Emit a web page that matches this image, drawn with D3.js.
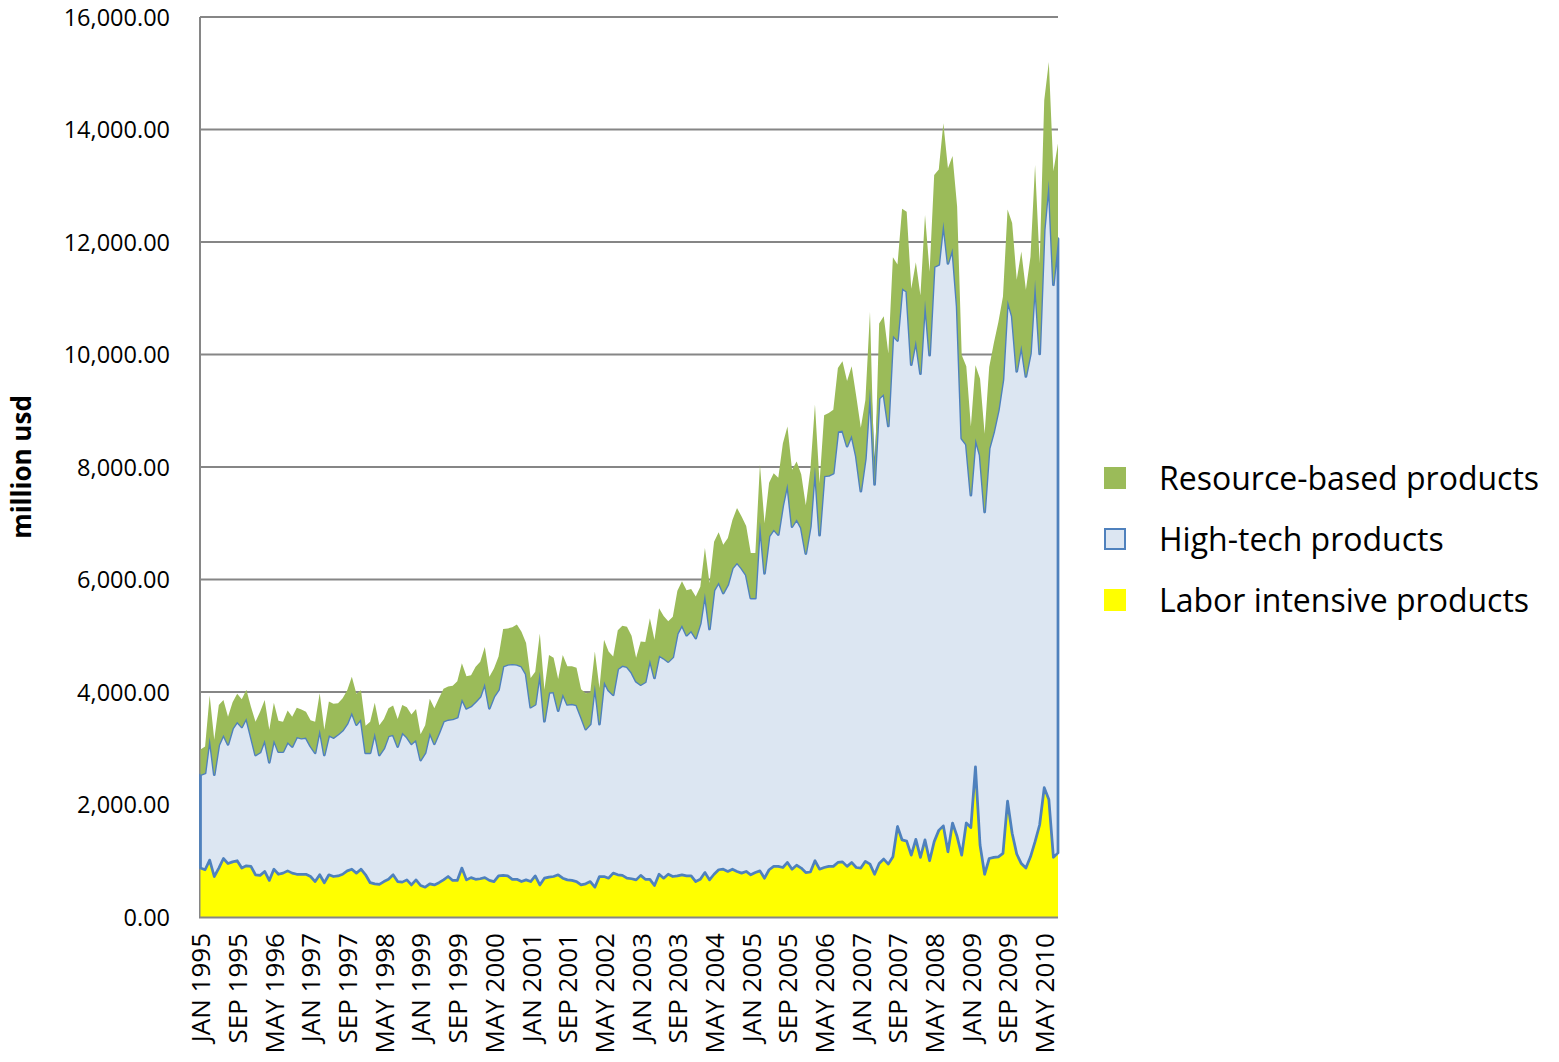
<!DOCTYPE html>
<html>
<head>
<meta charset="utf-8">
<script src="https://cdn.jsdelivr.net/npm/d3@7"></script>
<style>
  body { margin: 0; background: #fff; }
  text { font-family: "Open Sans", sans-serif; fill: #000; }
</style>
</head>
<body>
<div class="chart"></div>
<script>
// monthly values, million usd, JAN 1995 .. AUG 2010
const laborIntensive = [
  870, 840, 1010, 720, 870, 1040, 950, 980, 1000, 870, 910, 900,
  750, 740, 810, 650, 850, 760, 780, 820, 780, 760, 760, 760,
  720, 630, 750, 610, 750, 720, 730, 760, 820, 850, 780, 850,
  750, 610, 590, 580, 630, 670, 750, 630, 620, 660, 570, 660,
  560, 530, 590, 570, 610, 660, 720, 650, 650, 870, 660, 700,
  670, 680, 700, 650, 630, 730, 740, 730, 670, 670, 630, 660,
  630, 730, 570, 690, 710, 720, 750, 690, 660, 650, 630, 570,
  590, 630, 530, 720, 720, 690, 780, 750, 740, 690, 680, 660,
  740, 670, 670, 560, 760, 690, 760, 720, 730, 750, 730, 730,
  630, 670, 790, 660, 760, 840, 850, 810, 850, 810, 780, 810,
  750, 790, 820, 690, 840, 900, 900, 880, 970, 850, 920, 870,
  790, 800, 1000, 850, 880, 900, 900, 970, 980, 900, 970, 880,
  870, 990, 940, 760, 950, 1030, 940, 1070, 1610, 1370, 1350, 1100,
  1380, 1060, 1370, 1000, 1340, 1540, 1620, 1160, 1670, 1430, 1100, 1670,
  1590, 2670, 1280, 760, 1040, 1060, 1070, 1130, 2060, 1490, 1120, 950,
  870, 1070, 1340, 1640, 2300, 2090, 1060, 1140
];
const highTech = [
  1660, 1720, 2190, 1810, 2190, 2200, 2120, 2370, 2470, 2510, 2630, 2310,
  2130, 2190, 2340, 2100, 2300, 2180, 2160, 2290, 2250, 2440, 2420, 2430,
  2320, 2290, 2590, 2270, 2480, 2470, 2520, 2560, 2620, 2790, 2640, 2670,
  2170, 2310, 2690, 2300, 2370, 2550, 2490, 2400, 2660, 2540, 2510, 2490,
  2230, 2390, 2690, 2510, 2660, 2820, 2790, 2870, 2900, 3010, 3050, 3050,
  3160, 3240, 3460, 3060, 3290, 3310, 3720, 3760, 3830, 3820, 3830, 3660,
  3100, 3050, 3790, 2790, 3280, 3280, 2920, 3280, 3120, 3140, 3140, 2990,
  2750, 2800, 3600, 2710, 3470, 3340, 3170, 3660, 3730, 3760, 3670, 3530,
  3390, 3510, 3910, 3690, 3890, 3910, 3780, 3900, 4310, 4440, 4280, 4360,
  4330, 4550, 4970, 4460, 5050, 5110, 4910, 5100, 5350, 5490, 5420, 5270,
  4920, 4880, 6210, 5420, 5930, 5990, 5900, 6440, 6740, 6090, 6150, 6050,
  5670, 6140, 7010, 5940, 6960, 6950, 6990, 7660, 7670, 7470, 7600, 7310,
  6700, 7160, 8460, 6930, 8270, 8270, 7790, 9270, 8640, 9810, 9770, 8720,
  8880, 8600, 9600, 8990, 10220, 10060, 10740, 10460, 10220, 9420, 7410, 6730,
  5910, 5840, 6930, 6440, 7290, 7570, 7940, 8420, 8910, 9190, 8580, 9220,
  8740, 8950, 9990, 8370, 9910, 11010, 10180, 10920
];
const resourceBased = [
  450, 470, 740, 620, 710, 620, 490, 470, 500, 490, 500, 530,
  590, 720, 710, 580, 660, 550, 530, 560, 530, 520, 510, 460,
  460, 550, 640, 450, 600, 600, 550, 570, 590, 630, 550, 510,
  480, 550, 530, 530, 520, 490, 520, 490, 490, 530, 520, 550,
  460, 490, 600, 630, 620, 580, 590, 590, 640, 630, 570, 550,
  620, 620, 640, 560, 500, 590, 660, 640, 650, 710, 610, 550,
  520, 580, 680, 560, 670, 610, 560, 690, 680, 670, 660, 490,
  640, 560, 590, 640, 740, 690, 680, 690, 710, 710, 650, 420,
  770, 710, 730, 680, 840, 750, 720, 720, 760, 780, 800, 740,
  740, 650, 800, 820, 860, 890, 860, 830, 860, 970, 920, 870,
  800, 800, 1010, 890, 950, 1000, 1010, 1100, 1010, 1010, 1030, 950,
  860, 1010, 1100, 920, 1080, 1110, 1130, 1130, 1230, 1160, 1220, 1070,
  1130, 1040, 1360, 60, 1330, 1380, 1290, 1390, 1350, 1410, 1420, 1350,
  1380, 1390, 1510, 1480, 1630, 1690, 1750, 1690, 1640, 1780, 1480, 1390,
  1220, 1300, 1360, 1390, 1450, 1570, 1570, 1480, 1610, 1660, 1630, 1660,
  1540, 1720, 2040, 1610, 2310, 2100, 2020, 1690
];

const monthNames = ["JAN", "FEB", "MAR", "APR", "MAY", "JUN", "JUL", "AUG", "SEP", "OCT", "NOV", "DEC"];
const firstYear = 1995;
const xTickLabels = [
  "JAN 1995", "SEP 1995", "MAY 1996", "JAN 1997", "SEP 1997", "MAY 1998",
  "JAN 1999", "SEP 1999", "MAY 2000", "JAN 2001", "SEP 2001", "MAY 2002",
  "JAN 2003", "SEP 2003", "MAY 2004", "JAN 2005", "SEP 2005", "MAY 2006",
  "JAN 2007", "SEP 2007", "MAY 2008", "JAN 2009", "SEP 2009", "MAY 2010"
];
const yTicks = [0, 2000, 4000, 6000, 8000, 10000, 12000, 14000, 16000];
const seriesKeys = ["labor", "hightech", "resource"];
const legendItems = [
  { key: "resource", label: "Resource-based products" },
  { key: "hightech", label: "High-tech products" },
  { key: "labor", label: "Labor intensive products" }
];

const colors = { labor: "#ffff00", hightech: "#dce6f2", resource: "#9bbb59" };
const lineBlue = "#4f81bd";
const gridGrey = "#868686";

const width = 1559, height = 1062;
const plot = { left: 200, right: 1058, top: 17, bottom: 917 };

const months = laborIntensive.map((d, i) =>
  monthNames[i % 12] + " " + (firstYear + Math.floor(i / 12)));

const table = months.map((m, i) => ({
  month: m,
  labor: laborIntensive[i],
  hightech: highTech[i],
  resource: resourceBased[i]
}));

const svg = d3.select(".chart")
  .append("svg")
  .attr("width", width)
  .attr("height", height);

const x = d3.scalePoint().domain(months).range([plot.left + 0.5, plot.right]);
const y = d3.scaleLinear().domain([0, 16000]).range([plot.bottom, plot.top]);

// gridlines
svg.append("g")
  .selectAll("line")
  .data(yTicks.filter(d => d > 0))
  .join("line")
  .attr("x1", plot.left)
  .attr("x2", plot.right)
  .attr("y1", d => y(d))
  .attr("y2", d => y(d))
  .attr("stroke", gridGrey)
  .attr("stroke-width", 2);

// left axis line
svg.append("line")
  .attr("x1", plot.left).attr("x2", plot.left)
  .attr("y1", plot.top).attr("y2", plot.bottom + 1)
  .attr("stroke", gridGrey)
  .attr("stroke-width", 2);

const stacked = d3.stack().keys(seriesKeys)(table);

const area = d3.area()
  .x(d => x(d.data.month))
  .y0(d => y(d[0]))
  .y1(d => y(d[1]));

svg.append("g")
  .selectAll("path")
  .data(stacked)
  .join("path")
  .attr("d", area)
  .attr("fill", d => colors[d.key])
  .attr("stroke", d => (d.key === "hightech" ? lineBlue : "none"))
  .attr("stroke-width", 2.75)
  .attr("stroke-linejoin", "round");

// bottom axis line
svg.append("line")
  .attr("x1", plot.left - 1).attr("x2", plot.right)
  .attr("y1", plot.bottom + 0.5).attr("y2", plot.bottom + 0.5)
  .attr("stroke", gridGrey)
  .attr("stroke-width", 2);

// y axis labels
const yAxis = svg.append("g")
  .attr("transform", `translate(${plot.left},0)`)
  .call(d3.axisLeft(y).tickValues(yTicks).tickFormat(d3.format(",.2f")).tickSize(0).tickPadding(30));
yAxis.select(".domain").remove();
yAxis.selectAll("text")
  .style("font-size", "23.5px")
  .attr("dy", "0.36em");

// x axis labels
const xAxis = svg.append("g")
  .attr("transform", `translate(0,${plot.bottom})`)
  .call(d3.axisBottom(x).tickValues(xTickLabels).tickSize(0));
xAxis.select(".domain").remove();
xAxis.selectAll("text")
  .style("font-size", "26px")
  .attr("text-anchor", "end")
  .attr("transform", "rotate(-90)")
  .attr("x", -16)
  .attr("y", 0)
  .attr("dy", "0.36em");

// y axis title
svg.append("text")
  .attr("transform", "translate(22,467) rotate(-90)")
  .attr("text-anchor", "middle")
  .attr("dy", "0.36em")
  .style("font-size", "26px")
  .style("font-weight", "bold")
  .text("million usd");

// legend
const legend = svg.append("g")
  .selectAll("g")
  .data(legendItems)
  .join("g")
  .attr("transform", (d, i) => `translate(1104,${478 + i * 61})`);

legend.append("rect")
  .attr("x", d => (d.key === "hightech" ? 1 : 0))
  .attr("y", d => (d.key === "hightech" ? -10 : -11))
  .attr("width", d => (d.key === "hightech" ? 20 : 22))
  .attr("height", d => (d.key === "hightech" ? 20 : 22))
  .attr("fill", d => colors[d.key])
  .attr("stroke", d => (d.key === "hightech" ? lineBlue : "none"))
  .attr("stroke-width", 2);

legend.append("text")
  .attr("x", 55)
  .attr("dy", "0.36em")
  .style("font-size", "32px")
  .text(d => d.label);
</script>
</body>
</html>
